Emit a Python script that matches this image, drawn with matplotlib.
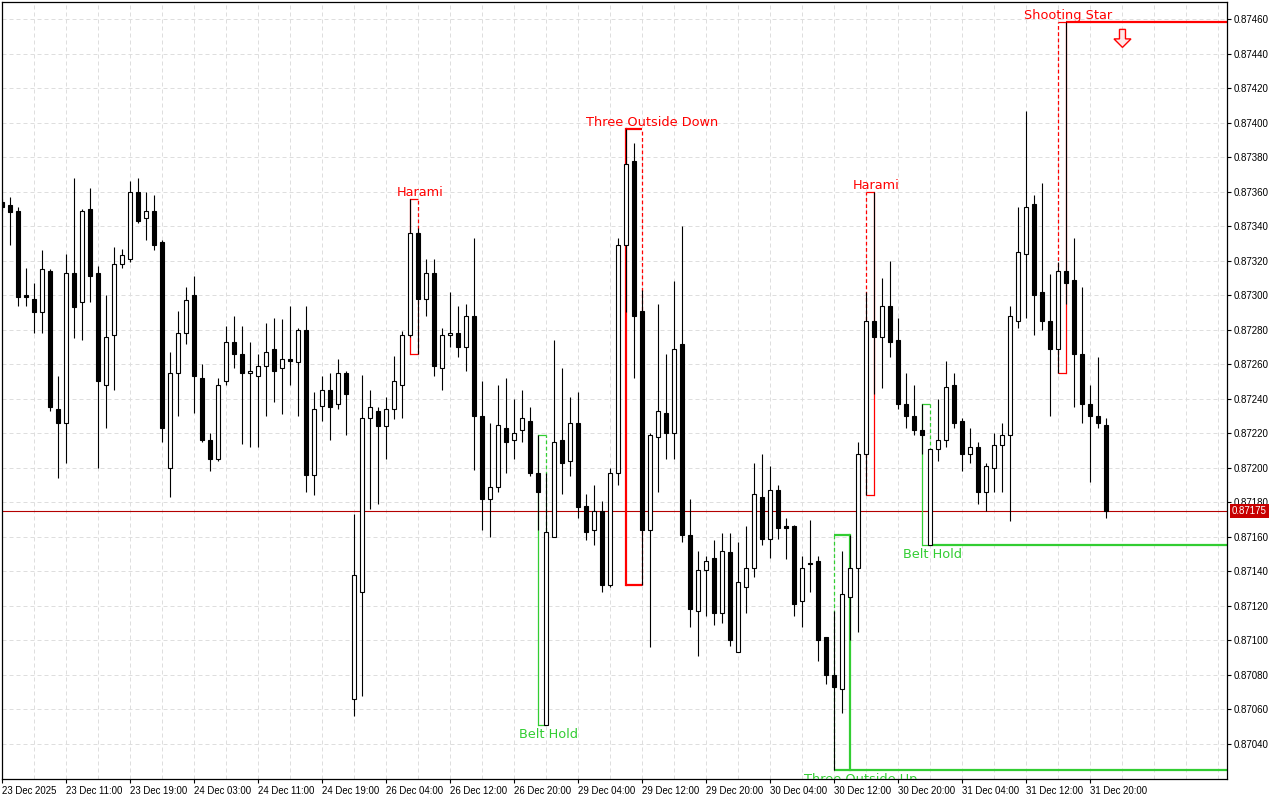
import numpy as np
import matplotlib
matplotlib.use("Agg")
import matplotlib.pyplot as plt
import matplotlib.transforms as mtransforms
from matplotlib.patches import Rectangle, Polygon

# hourly candles, 23 Dec 2025 03:00 .. 31 Dec 2025 22:00
opens = [0.87354, 0.87352, 0.87349, 0.87300, 0.87298, 0.87290, 0.87314, 0.87234, 0.87226, 0.87313,
         0.87296, 0.87350, 0.87313, 0.87248, 0.87277, 0.87318, 0.87321, 0.87360, 0.87345, 0.87349,
         0.87331, 0.87200, 0.87255, 0.87278, 0.87300, 0.87252, 0.87216, 0.87205, 0.87250, 0.87273,
         0.87266, 0.87255, 0.87253, 0.87259, 0.87269, 0.87258, 0.87263, 0.87261, 0.87280, 0.87196,
         0.87236, 0.87245, 0.87237, 0.87255, 0.87066, 0.87128, 0.87229, 0.87233, 0.87224, 0.87234,
         0.87248, 0.87277, 0.87336, 0.87298, 0.87313, 0.87258, 0.87277, 0.87278, 0.87270, 0.87288,
         0.87230, 0.87182, 0.87189, 0.87223, 0.87216, 0.87222, 0.87227, 0.87197, 0.87051, 0.87160,
         0.87216, 0.87204, 0.87226, 0.87178, 0.87164, 0.87175, 0.87132, 0.87197, 0.87329, 0.87378,
         0.87291, 0.87164, 0.87218, 0.87232, 0.87220, 0.87272, 0.87161, 0.87117, 0.87141, 0.87148,
         0.87116, 0.87151, 0.87093, 0.87131, 0.87142, 0.87183, 0.87159, 0.87187, 0.87166, 0.87166,
         0.87123, 0.87145, 0.87146, 0.87102, 0.87080, 0.87072, 0.87125, 0.87142, 0.87208, 0.87285,
         0.87276, 0.87294, 0.87274, 0.87237, 0.87230, 0.87222, 0.87155, 0.87211, 0.87216, 0.87248,
         0.87227, 0.87208, 0.87212, 0.87186, 0.87200, 0.87213, 0.87219, 0.87285, 0.87324, 0.87353,
         0.87302, 0.87285, 0.87269, 0.87314, 0.87309, 0.87266, 0.87237, 0.87230, 0.87225]
highs = [0.87356, 0.87357, 0.87351, 0.87316, 0.87307, 0.87326, 0.87315, 0.87253, 0.87324, 0.87368,
         0.87350, 0.87362, 0.87317, 0.87300, 0.87328, 0.87327, 0.87366, 0.87368, 0.87360, 0.87358,
         0.87332, 0.87267, 0.87291, 0.87305, 0.87311, 0.87260, 0.87220, 0.87252, 0.87282, 0.87288,
         0.87282, 0.87273, 0.87266, 0.87284, 0.87287, 0.87286, 0.87294, 0.87281, 0.87294, 0.87244,
         0.87253, 0.87255, 0.87263, 0.87256, 0.87173, 0.87254, 0.87245, 0.87235, 0.87241, 0.87265,
         0.87279, 0.87356, 0.87339, 0.87321, 0.87321, 0.87281, 0.87302, 0.87294, 0.87295, 0.87333,
         0.87250, 0.87226, 0.87248, 0.87252, 0.87240, 0.87245, 0.87235, 0.87219, 0.87197, 0.87274,
         0.87258, 0.87241, 0.87244, 0.87185, 0.87190, 0.87181, 0.87200, 0.87333, 0.87396, 0.87388,
         0.87303, 0.87220, 0.87295, 0.87266, 0.87308, 0.87340, 0.87182, 0.87152, 0.87149, 0.87158,
         0.87162, 0.87162, 0.87157, 0.87166, 0.87203, 0.87208, 0.87201, 0.87190, 0.87171, 0.87167,
         0.87149, 0.87170, 0.87149, 0.87102, 0.87117, 0.87152, 0.87161, 0.87215, 0.87302, 0.87360,
         0.87310, 0.87320, 0.87287, 0.87255, 0.87248, 0.87237, 0.87211, 0.87240, 0.87262, 0.87255,
         0.87229, 0.87223, 0.87215, 0.87203, 0.87220, 0.87226, 0.87294, 0.87351, 0.87407, 0.87358,
         0.87365, 0.87312, 0.87319, 0.87458, 0.87333, 0.87305, 0.87248, 0.87264, 0.87229]
lows = [0.87349, 0.87329, 0.87294, 0.87294, 0.87278, 0.87278, 0.87233, 0.87194, 0.87203, 0.87275,
        0.87274, 0.87296, 0.87200, 0.87223, 0.87245, 0.87316, 0.87319, 0.87342, 0.87332, 0.87326,
        0.87215, 0.87183, 0.87230, 0.87272, 0.87232, 0.87215, 0.87198, 0.87204, 0.87248, 0.87258,
        0.87214, 0.87212, 0.87212, 0.87230, 0.87238, 0.87231, 0.87248, 0.87230, 0.87186, 0.87184,
        0.87227, 0.87216, 0.87234, 0.87219, 0.87056, 0.87068, 0.87176, 0.87179, 0.87205, 0.87228,
        0.87229, 0.87276, 0.87266, 0.87288, 0.87253, 0.87245, 0.87270, 0.87264, 0.87256, 0.87199,
        0.87164, 0.87160, 0.87186, 0.87197, 0.87205, 0.87215, 0.87195, 0.87164, 0.87051, 0.87160,
        0.87185, 0.87195, 0.87171, 0.87158, 0.87155, 0.87128, 0.87131, 0.87190, 0.87290, 0.87252,
        0.87132, 0.87096, 0.87186, 0.87205, 0.87205, 0.87157, 0.87108, 0.87091, 0.87114, 0.87109,
        0.87110, 0.87097, 0.87093, 0.87116, 0.87137, 0.87155, 0.87148, 0.87159, 0.87147, 0.87114,
        0.87108, 0.87128, 0.87088, 0.87075, 0.87025, 0.87058, 0.87100, 0.87105, 0.87184, 0.87243,
        0.87246, 0.87264, 0.87234, 0.87223, 0.87219, 0.87208, 0.87155, 0.87204, 0.87212, 0.87223,
        0.87198, 0.87203, 0.87179, 0.87175, 0.87186, 0.87186, 0.87169, 0.87281, 0.87287, 0.87277,
        0.87280, 0.87230, 0.87255, 0.87295, 0.87235, 0.87226, 0.87192, 0.87223, 0.87171]
closes = [0.87351, 0.87348, 0.87299, 0.87299, 0.87290, 0.87315, 0.87235, 0.87226, 0.87313, 0.87293,
          0.87349, 0.87311, 0.87250, 0.87276, 0.87318, 0.87323, 0.87360, 0.87343, 0.87349, 0.87329,
          0.87223, 0.87255, 0.87278, 0.87297, 0.87253, 0.87216, 0.87205, 0.87248, 0.87273, 0.87266,
          0.87255, 0.87256, 0.87259, 0.87267, 0.87256, 0.87263, 0.87262, 0.87280, 0.87196, 0.87234,
          0.87245, 0.87235, 0.87255, 0.87243, 0.87138, 0.87229, 0.87235, 0.87224, 0.87234, 0.87250,
          0.87277, 0.87336, 0.87298, 0.87313, 0.87259, 0.87277, 0.87278, 0.87270, 0.87288, 0.87230,
          0.87182, 0.87189, 0.87225, 0.87215, 0.87220, 0.87229, 0.87197, 0.87186, 0.87163, 0.87215,
          0.87203, 0.87226, 0.87177, 0.87163, 0.87175, 0.87132, 0.87197, 0.87329, 0.87376, 0.87288,
          0.87164, 0.87219, 0.87233, 0.87220, 0.87269, 0.87161, 0.87118, 0.87141, 0.87146, 0.87116,
          0.87152, 0.87100, 0.87134, 0.87142, 0.87185, 0.87159, 0.87187, 0.87165, 0.87165, 0.87121,
          0.87142, 0.87144, 0.87100, 0.87080, 0.87073, 0.87127, 0.87142, 0.87208, 0.87285, 0.87276,
          0.87294, 0.87273, 0.87237, 0.87230, 0.87222, 0.87219, 0.87211, 0.87216, 0.87247, 0.87226,
          0.87208, 0.87212, 0.87186, 0.87201, 0.87213, 0.87219, 0.87288, 0.87325, 0.87351, 0.87300,
          0.87285, 0.87269, 0.87314, 0.87307, 0.87266, 0.87237, 0.87230, 0.87226, 0.87175]

tick_labels = ["23 Dec 2025", "23 Dec 11:00", "23 Dec 19:00", "24 Dec 03:00", "24 Dec 11:00",
               "24 Dec 19:00", "26 Dec 04:00", "26 Dec 12:00", "26 Dec 20:00", "29 Dec 04:00",
               "29 Dec 12:00", "29 Dec 20:00", "30 Dec 04:00", "30 Dec 12:00", "30 Dec 20:00",
               "31 Dec 04:00", "31 Dec 12:00", "31 Dec 20:00"]
price_ticks = [0.87040, 0.87060, 0.87080, 0.87100, 0.87120, 0.87140, 0.87160, 0.87180, 0.87200,
               0.87220, 0.87240, 0.87260, 0.87280, 0.87300, 0.87320, 0.87340, 0.87360, 0.87380,
               0.87400, 0.87420, 0.87440, 0.87460]

# candlestick patterns found by the indicator
pattern_names = ["Harami", "Belt Hold", "Three Outside Down", "Three Outside Up",
                 "Harami", "Belt Hold", "Shooting Star"]
pattern_first = [51, 67, 78, 104, 108, 115, 132]
pattern_last = [52, 68, 80, 106, 109, 116, 133]
pattern_bullish = [False, True, False, True, False, True, False]
pattern_active = [False, False, False, True, False, True, True]
signal_bar = 140
signal_price = 0.87454

BEAR = "#ff0000"
BULL = "#32cd32"
TICKFONT = ["Liberation Sans", "DejaVu Sans"]
dash_left = [False, False, False, True, True, False, True]

fig = plt.figure(figsize=(12.8, 8), dpi=100)
ax = fig.add_axes([2.3 / 1280, 20.7 / 800, 1225 / 1280, 777 / 800])
ax.set_xlim(0, 153.1)
ax.set_ylim(0.870195, 0.874697)

# grid + axes
ax.set_xticks(range(0, 154, 4), minor=True)
ax.set_xticks(range(0, 8 * len(tick_labels), 8))
ax.set_xticklabels(tick_labels, ha="left", fontsize=6.9, family=TICKFONT)
ax.set_yticks(price_ticks)
ax.set_yticklabels([f"{p:.5f}" for p in price_ticks], fontsize=7.0, family=TICKFONT)
ax.yaxis.tick_right()
ax.tick_params(axis="y", length=3, width=0.8, pad=1.5)
ax.tick_params(axis="x", which="major", length=3, width=0.8, pad=1.5)
ax.tick_params(axis="x", which="minor", length=0)
ax.grid(True, which="both", axis="x", color="#dedede", linestyle=(0, (4, 3)), linewidth=0.72)
ax.grid(True, which="major", axis="y", color="#dedede", linestyle=(0, (4, 3)), linewidth=0.72)
ax.set_axisbelow(True)
for s in ax.spines.values():
    s.set_linewidth(0.9)
    s.set_color("black")

# current price line
last = closes[-1]
ax.axhline(last, color="#b40000", lw=0.8, zorder=1.5)
tag_tr = mtransforms.offset_copy(ax.get_yaxis_transform(), fig=fig, x=4.5, y=0, units="dots")
ax.text(1.0, last, f"{last:.5f}", transform=tag_tr, color="white", fontsize=7.0,
        family=TICKFONT, ha="left", va="center", clip_on=False, zorder=10,
        bbox=dict(facecolor="#c80000", edgecolor="none", boxstyle="square,pad=0.22"))

# patterns (boxes drawn under the candles)
for name, a, b, bull, active, dl in zip(pattern_names, pattern_first, pattern_last,
                                        pattern_bullish, pattern_active, dash_left):
    col = BULL if bull else BEAR
    top = max(highs[a:b + 1])
    bot = min(lows[a:b + 1])
    lw = 1.6 if b - a >= 2 else 0.9
    ax.plot([a, b], [top, top], color=col, lw=lw, zorder=2, solid_capstyle="butt")
    ax.plot([a, b], [bot, bot], color=col, lw=lw, zorder=2, solid_capstyle="butt")
    ax.plot([a, a], [bot, top], color=col, lw=0.9 if dl else lw,
            ls=(0, (3, 2)) if dl else "-", zorder=2)
    ax.plot([b, b], [bot, top], color=col, lw=lw if dl else 0.9,
            ls="-" if dl else (0, (3, 2)), zorder=2)
    if active:
        lvl = bot if bull else top
        ax.plot([b, ax.get_xlim()[1]], [lvl, lvl], color=col, lw=1.6, zorder=2,
                solid_capstyle="butt")
    dx = 10 if b - a >= 2 else 2
    if bull:
        tr = mtransforms.offset_copy(ax.transData, fig=fig, x=dx, y=-3, units="dots")
        ax.text(b, bot, name, transform=tr, color=col, fontsize=9.3, family="DejaVu Sans",
                ha="center", va="top", clip_on=True, zorder=6)
    else:
        tr = mtransforms.offset_copy(ax.transData, fig=fig, x=dx, y=3, units="dots")
        ax.text(b, top, name, transform=tr, color=col, fontsize=9.3, family="DejaVu Sans",
                ha="center", va="baseline", clip_on=True, zorder=6)

# sell arrow after the shooting star
arr_tr = mtransforms.ScaledTranslation(signal_bar, signal_price, ax.transData)
arrow = Polygon([(-3, 0), (3, 0), (3, -9.5), (8.5, -9.5), (0, -18), (-8.5, -9.5), (-3, -9.5)],
                closed=True, transform=arr_tr, facecolor="#ffe8e8", edgecolor=BEAR, lw=1.0,
                zorder=7)
ax.add_patch(arrow)

# candles
x = np.arange(len(opens))
ax.vlines(x, lows, highs, color="black", lw=0.8, zorder=3)
for i in x:
    o, c = opens[i], closes[i]
    fc = "black" if c < o else "white"
    ax.add_patch(Rectangle((i - 0.25, min(o, c)), 0.5, abs(c - o), facecolor=fc,
                           edgecolor="black", lw=0.8, zorder=4))

fig.savefig("out.png", dpi=100, facecolor="white")
